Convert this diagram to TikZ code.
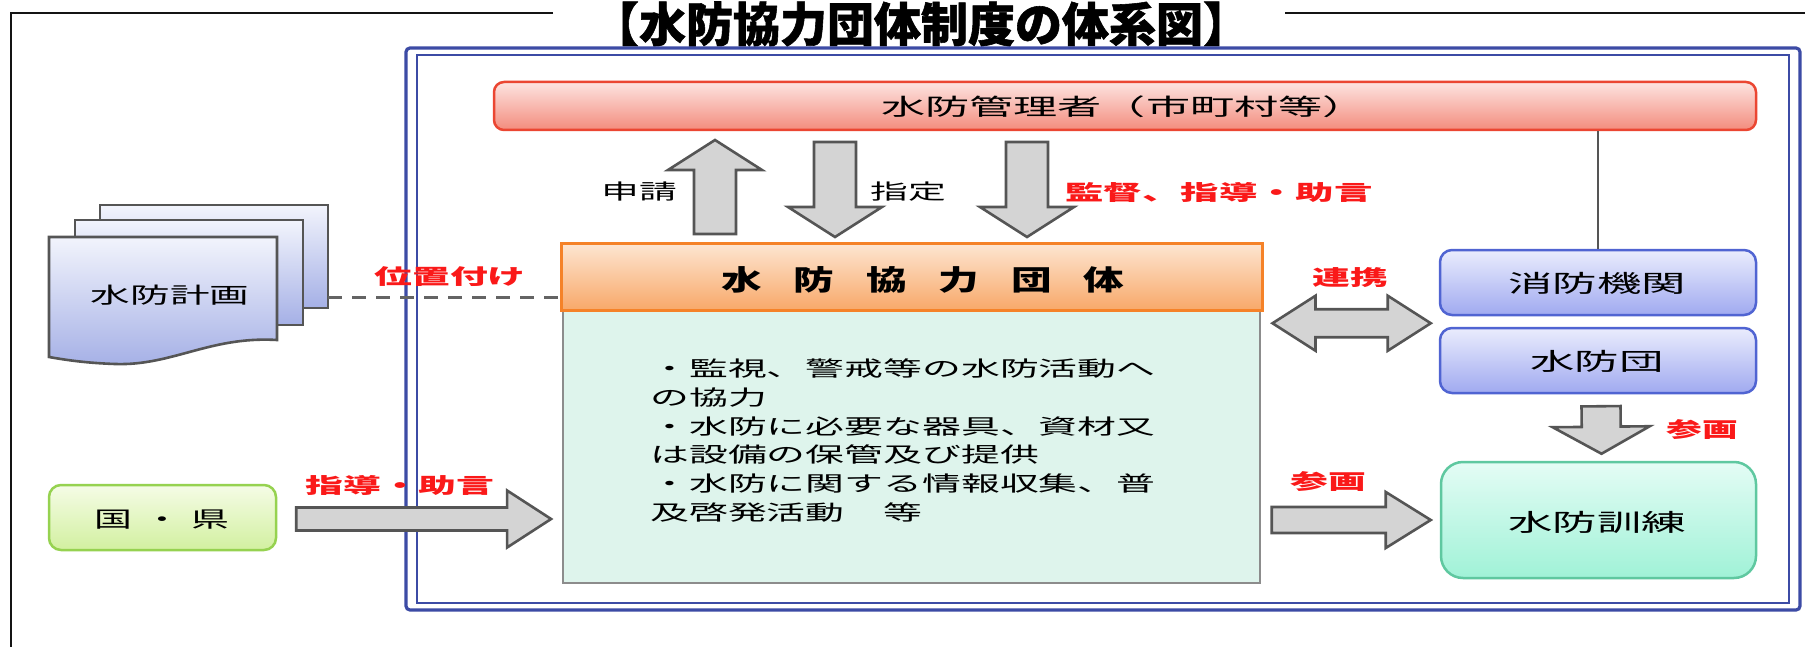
\documentclass[tikz,border=0pt]{standalone}
\usepackage{fontspec}
\setmainfont{Noto Sans CJK JP}
\usetikzlibrary{calc}
\definecolor{redlab}{RGB}{250,25,25}
\definecolor{arrowfill}{RGB}{212,212,212}
\definecolor{arrowdraw}{RGB}{85,85,85}
\definecolor{frameblue}{RGB}{60,75,165}
\newcommand\sx[2][1.8]{\scalebox{#1}[1]{#2}}
\newcommand\fz[1]{\fontsize{#1}{#1}\selectfont}
\newcommand\blockarrow[5]{%
  \path let \p1=(#1), \p2=(#2) in
    \pgfextra{%
      \pgfmathsetmacro\baang{atan2(\y2-\y1,\x2-\x1)}%
      \pgfmathsetmacro\balen{2*veclen(\x2-\x1,\y2-\y1)}%
      \global\let\baangG\baang \global\let\balenG\balen};
  \begin{scope}[shift={(#1)}, rotate=\baangG]
    \path[blockarrowstyle] (0,-#3) -- ({\balenG-#5},-#3) -- ({\balenG-#5},-#4) -- (\balenG,0)
      -- ({\balenG-#5},#4) -- ({\balenG-#5},#3) -- (0,#3) -- cycle;
  \end{scope}}
\newcommand\dblockarrow[5]{%
  \path let \p1=(#1), \p2=(#2) in
    \pgfextra{%
      \pgfmathsetmacro\baang{atan2(\y2-\y1,\x2-\x1)}%
      \pgfmathsetmacro\balen{2*veclen(\x2-\x1,\y2-\y1)}%
      \global\let\baangG\baang \global\let\balenG\balen};
  \begin{scope}[shift={(#1)}, rotate=\baangG]
    \path[blockarrowstyle] (0,0) -- (#5,-#4) -- (#5,-#3) -- ({\balenG-#5},-#3) -- ({\balenG-#5},-#4)
      -- (\balenG,0) -- ({\balenG-#5},#4) -- ({\balenG-#5},#3) -- (#5,#3) -- (#5,#4) -- cycle;
  \end{scope}}
\begin{document}
\begin{tikzpicture}[x=0.5pt,y=-0.5pt,
  blockarrowstyle/.style={fill=arrowfill, draw=arrowdraw, line width=1.3pt, line join=miter},
  lab/.style={inner sep=0pt, font=\fz{10.5}},
  rlab/.style={inner sep=0pt, text=redlab, font=\bfseries\fz{10.5}},
  boxbase/.style={draw, line width=1.25pt, inner sep=0pt},
  mgrbox/.style={boxbase, rounded corners=5pt, draw={rgb,255:red,235;green,70;blue,50},
     top color={rgb,255:red,253;green,228;blue,225}, bottom color={rgb,255:red,243;green,140;blue,125},
     minimum width=631pt, minimum height=24pt},
  kyobox/.style={boxbase, line width=1.5pt, draw={rgb,255:red,245;green,130;blue,40},
     top color={rgb,255:red,253;green,230;blue,210}, bottom color={rgb,255:red,248;green,168;blue,105},
     minimum width=350.5pt, minimum height=33.5pt},
  bodybox/.style={draw={rgb,255:red,140;green,140;blue,140}, line width=0.9pt,
     fill={rgb,255:red,222;green,244;blue,236}, minimum width=348.5pt, minimum height=136.5pt, inner sep=0pt},
  bluebox/.style={boxbase, rounded corners=6pt, draw={rgb,255:red,80;green,100;blue,210},
     top color={rgb,255:red,234;green,236;blue,253}, bottom color={rgb,255:red,160;green,170;blue,240},
     minimum width=158pt, minimum height=32.5pt},
  kunbox/.style={boxbase, rounded corners=11pt, draw={rgb,255:red,95;green,200;blue,160},
     top color={rgb,255:red,228;green,252;blue,245}, bottom color={rgb,255:red,160;green,242;blue,215},
     minimum width=157.5pt, minimum height=58pt},
  kenbox/.style={boxbase, rounded corners=6pt, draw={rgb,255:red,150;green,210;blue,80},
     top color={rgb,255:red,245;green,252;blue,230}, bottom color={rgb,255:red,210;green,240;blue,160},
     minimum width=113.5pt, minimum height=32.5pt},
  docpage/.style={draw={rgb,255:red,85;green,85;blue,85}, line width=1.3pt,
     top color={rgb,255:red,242;green,244;blue,252}, bottom color={rgb,255:red,165;green,176;blue,230}},
  frameline/.style={draw={rgb,255:red,20;green,20;blue,20}, line width=1.2pt},
  dashline/.style={draw={rgb,255:red,100;green,100;blue,100}, line width=1.5pt, dash pattern=on 7pt off 5pt},
  linkline/.style={draw={rgb,255:red,85;green,85;blue,85}, line width=1pt}
]
\useasboundingbox (0,0) rectangle (1805,647);
\fill[white] (0,0) rectangle (1805,647);

% outer frame and title
\node[inner sep=0pt, font=\bfseries\fz{23.5}\addfontfeature{FakeBold=1.2}] (title) at (921,24) {\sx[1.0]{【水防協力団体制度の体系図】}};
\draw[frameline] (553,13) -- (11,13) -- (11,647);
\draw[frameline] (1285,13) -- (1805,13);

% blue double frame
\draw[draw=frameblue, line width=1.6pt, rounded corners=2pt] (406,48) rectangle (1800,610);
\draw[draw=frameblue, line width=1.1pt] (417,55) rectangle (1789,603);

% main boxes
\node[mgrbox] (mgr) at (1125,106) {};
\node[lab, font=\fz{11.5}] (mgrtext) at (1124,107) {\sx[1.92]{水防管理者（市町村等）}};

\node[bodybox] (body) at (911.5,446.5) {};
\node[kyobox] (kyo) at (911.5,276.5) {};
\node[inner sep=0pt, font=\bfseries\fz{14}] (kyotext) at (923,280) {\sx[1.45]{水\hspace{11pt}防\hspace{11pt}協\hspace{11pt}力\hspace{11pt}団\hspace{11pt}体}};

\node[anchor=north west, inner sep=0pt, font=\fontsize{10.5}{14.4}\selectfont] (bodytext) at (650,356)
  {\sx[1.85]{\begin{tabular}{@{}l@{}}・監視、警戒等の水防活動へ\\ の協力\\ ・水防に必要な器具、資材又\\ は設備の保管及び提供\\ ・水防に関する情報収集、普\\ 及啓発活動　等\end{tabular}}};

% right side boxes
\node[bluebox] (shobo) at (1598,282.5) {};
\node[lab, font=\fz{12}] (shobotext) at (1597,283) {\sx[1.85]{消防機関}};
\node[bluebox] (suibodan) at (1598,360.5) {};
\node[lab, font=\fz{12}] (suibodantext) at (1597,361) {\sx[1.85]{水防団}};
\node[kunbox] (kunren) at (1598.5,520) {};
\node[lab, font=\fz{12}] (kunrentext) at (1597,522) {\sx[1.85]{水防訓練}};

\draw[linkline] (shobo.north) -- (shobo.north |- mgr.south);

% left side: document stack
\path[docpage] (100,205) rectangle (328,308);
\path[docpage] (75,220) rectangle (303,325);
\path[docpage] (49,237) -- (277,237) -- (277,340)
   .. controls (210,336) and (172,366) .. (115,364)
   .. controls (86,363) and (66,360) .. (49,357) -- cycle;
\node[lab, font=\fz{11}] (plan) at (170,295) {\sx[1.8]{水防計画}};
\coordinate (planR) at (328,297);
\draw[dashline] (planR) -- (planR -| kyo.west);
\node[rlab] (ichi) at (450,277) {\sx{位置付け}};

\node[kenbox] (ken) at (162.5,517.5) {};
\node[lab, font=\fz{11}] (kentext) at (162,520) {\sx[1.72]{国\hspace{3pt}・\hspace{3pt}県}};

% block arrows
\coordinate (a1s) at (715,234); \coordinate (a1e) at (715,140);
\blockarrow{a1s}{a1e}{21}{47}{30}
\coordinate (a2s) at (835,142); \coordinate (a2e) at (835,237);
\blockarrow{a2s}{a2e}{21}{47}{30}
\coordinate (a3s) at (1027,142); \coordinate (a3e) at (1027,237);
\blockarrow{a3s}{a3e}{21}{47}{30}
\coordinate (a4s) at ($(ken.east)+(19,1.5)$); \coordinate (a4e) at ($(body.west)+(-11,0)$);
\coordinate (a4e) at (a4e |- a4s);
\blockarrow{a4s}{a4e}{11.5}{28.5}{44}
\coordinate (a5s) at ($(kyo.east |- shobo.south)+(9,7)$); \coordinate (a5e) at ($(shobo.west |- a5s)+(-8,0)$);
\dblockarrow{a5s}{a5e}{14}{27.5}{43}
\coordinate (a6s) at ($(suibodan.south)+(3,12)$); \coordinate (a6e) at ($(kunren.north)+(3,-7)$);
\blockarrow{a6s}{a6e}{19.5}{48.5}{27}
\coordinate (a7s) at ($(kunren.west)+(-168,0)$); \coordinate (a7e) at ($(kunren.west)+(-9,0)$);
\blockarrow{a7s}{a7e}{13}{28}{45}

% labels
\node[lab] (shinsei) at (639,192) {\sx{申請}};
\node[lab] (shitei) at (908,192) {\sx{指定}};
\node[rlab] (kantoku) at (1219,192) {\sx[1.83]{監督、指導・助言}};
\node[rlab] (shido) at (400,485) {\sx{指導・助言}};
\node[rlab] (renkei) at (1350,278) {\sx{連携}};
\node[rlab] (sankaku1) at (1702,430) {\sx[1.7]{参画}};
\node[rlab] (sankaku2) at (1328,482) {\sx{参画}};
\end{tikzpicture}
\end{document}
